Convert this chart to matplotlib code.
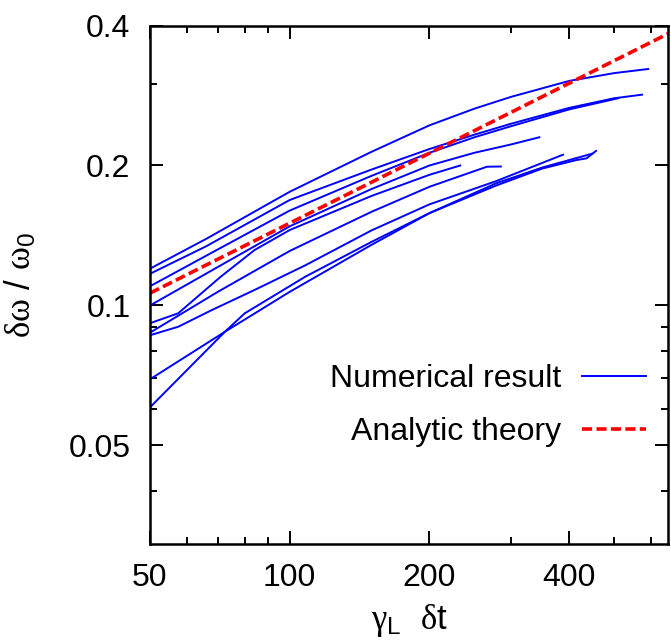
"""Frequency shift vs. gamma_L * delta t: numerical runs and analytic theory."""
import matplotlib
matplotlib.use("Agg")
import matplotlib.pyplot as plt
from matplotlib.ticker import FixedLocator, FuncFormatter, NullFormatter

# numerical runs (x = gamma_L dt, y = d omega / omega_0)
run_x = [
    [50, 66, 100, 150, 200, 250, 300, 400, 500, 592],
    [50, 66, 100, 150, 200, 250, 300, 400, 500, 574],
    [50, 70, 100, 150, 200, 250, 300, 400, 510],
    [50, 70, 100, 150, 200, 250, 300, 345],
    [50, 57.5, 71, 84, 100, 150, 200, 233],
    [50, 70, 100, 150, 200, 266, 285],
    [50, 57.5, 68, 84, 108, 150, 200, 278, 388],
    [50, 72.5, 100, 150, 200, 278, 350, 415, 436, 457],
    [50, 72.5, 80, 108, 150, 200, 278, 350, 448],
]
run_y = [
    [0.120, 0.139, 0.1756, 0.214, 0.244, 0.265, 0.281, 0.304, 0.316, 0.3225],
    [0.117, 0.134, 0.1686, 0.196, 0.217, 0.233, 0.246, 0.266, 0.279, 0.284],
    [0.110, 0.132, 0.160, 0.190, 0.213, 0.230, 0.243, 0.264, 0.279],
    [0.100, 0.121, 0.148, 0.178, 0.2, 0.213, 0.222, 0.230],
    [0.0916, 0.0962, 0.1153, 0.1316, 0.1453, 0.172, 0.191, 0.200],
    [0.0874, 0.107, 0.131, 0.159, 0.180, 0.1988, 0.199],
    [0.0863, 0.0900, 0.0978, 0.108, 0.122, 0.145, 0.165, 0.185, 0.211],
    [0.0694, 0.0878, 0.107, 0.135, 0.158, 0.181, 0.197, 0.2055, 0.2072, 0.215],
    [0.0604, 0.0878, 0.0962, 0.1153, 0.137, 0.158, 0.183, 0.198, 0.212],
]

# analytic theory (straight line in log-log)
theory_x = [50, 653]
theory_y = [0.1063, 0.384]

x_major = [50, 100, 200, 400]
x_minor = [60, 70, 80, 90, 300, 500, 600]
y_major = [0.05, 0.1, 0.2, 0.4]
y_minor = [0.04, 0.06, 0.07, 0.08, 0.09, 0.3]

plt.rcParams["font.family"] = ["Liberation Sans", "DejaVu Sans"]
plt.rcParams["mathtext.fontset"] = "custom"
plt.rcParams["mathtext.rm"] = "Liberation Sans"
plt.rcParams["mathtext.it"] = "Liberation Serif"
plt.rcParams["mathtext.sf"] = "Liberation Sans"

fig = plt.figure(figsize=(6.71, 6.43), dpi=100)
ax = fig.add_axes([150 / 671, 1 - 544 / 643, 518 / 671, 518.5 / 643])

for i, (xs, ys) in enumerate(zip(run_x, run_y)):
    ax.plot(xs, ys, color="#0000ff", lw=1.4,
            label="Numerical result" if i == 0 else None)
ax.plot(theory_x, theory_y, color="#ff0000", lw=2.6, dashes=(2.8, 1.2),
        label="Analytic theory")

ax.set_xscale("log")
ax.set_yscale("log")
ax.set_xlim(50, 653)
ax.set_ylim(0.0307, 0.4)

ax.xaxis.set_major_locator(FixedLocator(x_major))
ax.xaxis.set_minor_locator(FixedLocator(x_minor))
ax.yaxis.set_major_locator(FixedLocator(y_major))
ax.yaxis.set_minor_locator(FixedLocator(y_minor))
fmt = FuncFormatter(lambda v, pos: f"{v:g}")
ax.xaxis.set_major_formatter(fmt)
ax.yaxis.set_major_formatter(fmt)
ax.xaxis.set_minor_formatter(NullFormatter())
ax.yaxis.set_minor_formatter(NullFormatter())

ax.tick_params(which="both", direction="in", top=True, right=True,
               width=1.4, labelsize=23, colors="black")
ax.tick_params(which="major", length=9.5)
ax.tick_params(which="minor", length=4.8)
ax.tick_params(axis="x", which="major", pad=14)
ax.tick_params(axis="y", which="major", pad=14)
for s in ax.spines.values():
    s.set_linewidth(1.8)

ax.set_xlabel(r"$\gamma_{\mathrm{L}}$  $\delta$t", fontsize=25, labelpad=6)
ax.set_ylabel(r"$\delta\omega$ / $\omega_{\mathrm{0}}$", fontsize=25,
              labelpad=22)

ax.legend(loc="lower right", bbox_to_anchor=(1.0, 0.143), frameon=False,
          markerfirst=False, fontsize=23, handlelength=2.0,
          handletextpad=0.65, labelspacing=0.74, borderaxespad=0.3)

fig.savefig("out.png", dpi=100)
